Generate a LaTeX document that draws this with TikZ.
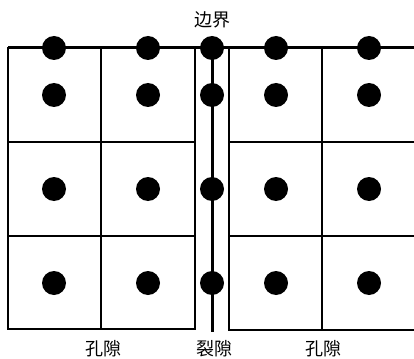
\documentclass[tikz,border=0pt]{standalone}
\usepackage{fontspec}
\usepackage{tikz}
\newfontfamily\cjk{Noto Sans CJK SC}

\begin{document}
\begin{tikzpicture}[x=1pt, y=-1pt,
	dot/.style={circle, fill=black, inner sep=0pt, minimum size=24pt},
	thinline/.style={line width=1.4pt},
	thickline/.style={line width=3pt},
	lbl/.style={font=\cjk\fontsize{18}{20}\selectfont, inner sep=0pt}]
	\useasboundingbox (0,0) rectangle (414,358);
	% pore blocks
	\draw[thinline] (8,48) rectangle (195,329);
	\draw[thinline] (101,48) -- (101,329);
	\foreach \y in {142,236} {
		\draw[thinline] (8,\y) -- (195,\y);
		\draw[thinline] (229,\y) -- (414,\y);
	}
	\draw[thinline] (414,330) -- (229,330) -- (229,48);
	\draw[thinline] (322,48) -- (322,330);
	% boundary and fracture
	\coordinate (bl) at (8,48);
	\coordinate (br) at (414,48);
	\coordinate (fbot) at (212,332);
	\draw[thickline] (bl) -- (br);
	\node[dot] (f0) at (212,48) {};
	\draw[thickline] (f0.center) -- (fbot);
	\foreach \y/\j in {95/1,189/2,283/3}
		\node[dot] (f\j) at (212,\y) {};
	% matrix dots
	\foreach \x/\i in {54/a,148/b,276/c,369/d} {
		\foreach \y/\j in {48/0,95/1,189/2,283/3}
			\node[dot] (\i\j) at (\x,\y) {};
	}
	% labels
	\node[lbl, anchor=north] (bound) at (212,11) {边界};
	\node[lbl, anchor=north] (pore1) at (103,340) {孔隙};
	\node[lbl, anchor=north] (frac) at (214,340) {裂隙};
	\node[lbl, anchor=north] (pore2) at (323,340) {孔隙};
\end{tikzpicture}
\end{document}
